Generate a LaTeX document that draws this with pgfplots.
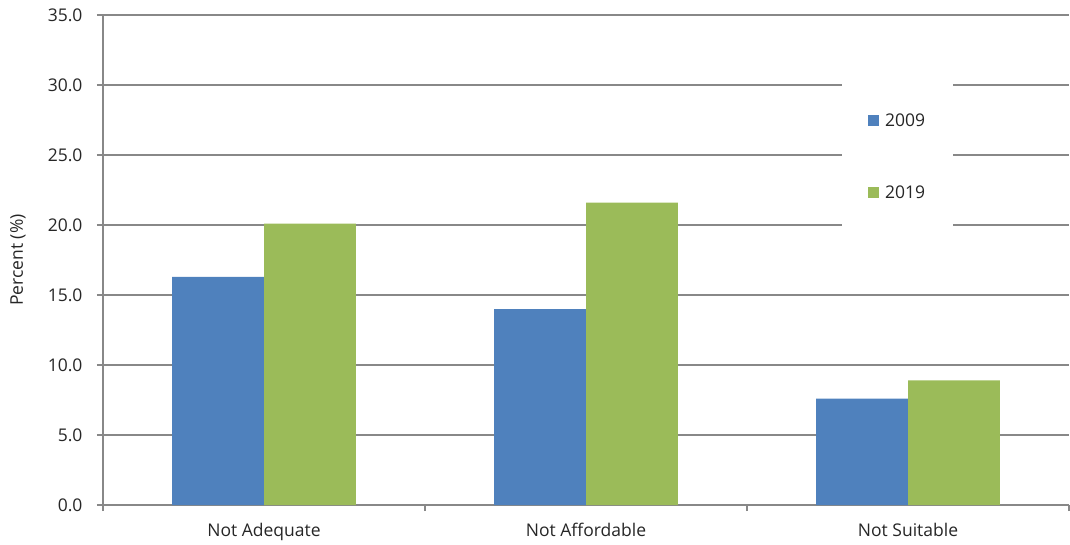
\documentclass[border=0pt]{standalone}
\usepackage{pgfplots}
\pgfplotsset{compat=1.18}
\usepackage{fontspec}
\setmainfont{Open Sans}
\definecolor{cblue}{HTML}{4F81BD}
\definecolor{cgreen}{HTML}{9BBB59}
\definecolor{cgrid}{HTML}{888888}
\definecolor{ctext}{HTML}{262626}
\begin{document}
\begin{tikzpicture}
\begin{axis}[
  at={(0pt,0pt)}, anchor=south west,
  scale only axis, width=966pt, height=490pt,
  xmin=-0.5, xmax=2.5, ymin=0, ymax=35,
  ytick={0,5,...,35},
  xtick={0,1,2},
  xticklabels={Not Adequate, Not Affordable, Not Suitable},
  minor xtick={-0.5,0.5,1.5,2.5},
  major x tick style={draw=none},
  minor tick length=6pt, major tick length=6pt,
  tick align=outside,
  tick style={cgrid, line width=1.5pt},
  axis x line*=bottom, axis y line*=left,
  axis line style={cgrid, line width=1.5pt, -},
  ymajorgrids, grid style={cgrid, line width=1.5pt},
  /pgf/number format/fixed, /pgf/number format/fixed zerofill, /pgf/number format/precision=1,
  /pgf/number format/assume math mode=true,
  ticklabel style={font=\fontsize{17.5}{20}\selectfont, text=ctext},
  yticklabel style={xshift=-11pt},
  xticklabel style={yshift=-9pt},
  ylabel={Percent (\%)},
  every axis y label/.style={at={(-85pt,0.5)}, rotate=90, anchor=center,
    font=\fontsize{17.5}{20}\selectfont, text=ctext},
  ybar, bar width=0.285,
  legend style={at={(rel axis cs:0.765,0.871)}, anchor=north west, draw=none, fill=white,
    inner xsep=26pt, inner ysep=33pt, row sep=54pt,
    font=\fontsize{17.5}{20}\selectfont, text=ctext,
    legend cell align=left},
  legend image code/.code={\path[#1, draw=none] (0pt,-5.5pt) rectangle (11pt,5.5pt); \path (15pt,0pt);},
  clip=false,
]
\addplot[fill=cblue, draw=none, bar shift=-0.1425] coordinates {(0,16.3) (1,14.0) (2,7.6)};
\addplot[fill=cgreen, draw=none, bar shift=0.1425] coordinates {(0,20.1) (1,21.6) (2,8.9)};
\legend{2009,2019}
\end{axis}
\pgfresetboundingbox
\path[use as bounding box] (-103pt,-39pt) rectangle (967pt,505pt);
\end{tikzpicture}
\end{document}
